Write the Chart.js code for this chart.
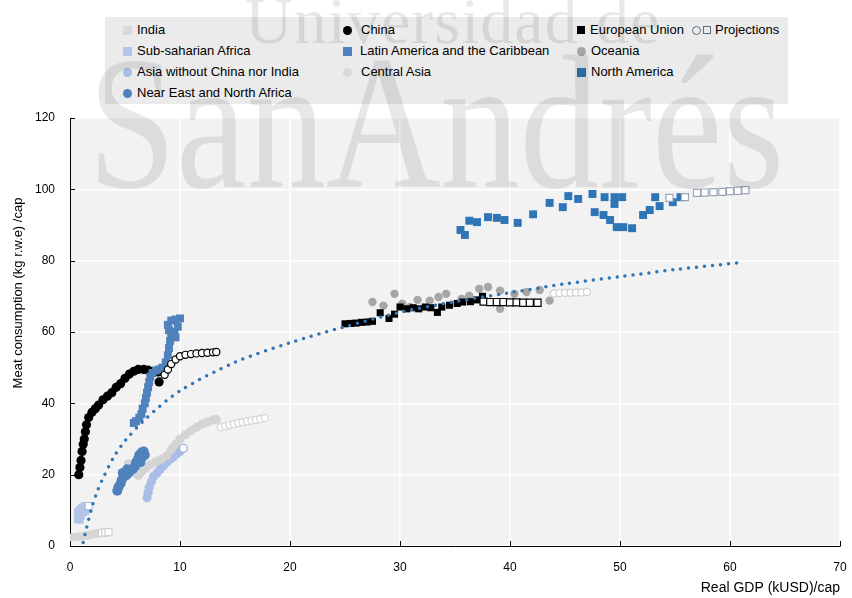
<!DOCTYPE html>
<html>
<head>
<meta charset="utf-8">
<script src="https://cdn.jsdelivr.net/npm/chart.js@4.4.1/dist/chart.umd.min.js"></script>
<style>
  body { margin: 0; background: #fff; }
  #wrap { position: relative; width: 852px; height: 598px; overflow: hidden; }
  #c { position: absolute; left: 0; top: 0; }
  #legend { position: absolute; left: 105px; top: 17px; width: 683px; height: 87px; background: #ebebeb;
            font: 13px "Liberation Sans", Arial, sans-serif; color: #000; }
  .it { position: absolute; height: 16px; line-height: 16px; display: flex; align-items: center; white-space: nowrap; }
  .it i { display: inline-block; width: 9px; height: 9px; margin-right: 5px; box-sizing: border-box; }
  .it i.ci { border-radius: 50%; }
  .wm { position: absolute; font-family: "Liberation Serif", "DejaVu Serif", serif; color: rgba(0,0,0,0.09);
        line-height: 1; white-space: nowrap; pointer-events: none; transform-origin: 0 0; }
</style>
</head>
<body>
<div id="wrap">
  <div id="legend">
    <div class="it" style="left:18px;top:5px"><i style="background:#d9d9d9"></i>India</div>
    <div class="it" style="left:18px;top:26px"><i style="background:#b4c4e8"></i>Sub-saharian Africa</div>
    <div class="it" style="left:18px;top:47px"><i class="ci" style="background:#aabde6"></i>Asia without China nor India</div>
    <div class="it" style="left:18px;top:68px"><i class="ci" style="background:#4f81bd"></i>Near East and North Africa</div>

    <div class="it" style="left:238px;top:5px"><i class="ci" style="background:#000;margin-right:9px"></i>China</div>
    <div class="it" style="left:238px;top:26px"><i style="background:#4f81bd;margin-right:8px"></i>Latin America and the Caribbean</div>
    <div class="it" style="left:238px;top:47px"><i class="ci" style="background:#d9d9d9;margin-right:9px"></i>Central Asia</div>

    <div class="it" style="left:472px;top:5px"><i style="background:#000;width:8px;height:8px"></i>European Union</div>
    <div class="it" style="left:472px;top:26px"><i class="ci" style="background:#a6a6a6"></i>Oceania</div>
    <div class="it" style="left:472px;top:47px"><i style="background:#2e75b6"></i>North America</div>

    <div class="it" style="left:587px;top:5px"><i class="ci" style="border:1px solid #5b6f8a;margin-right:2px"></i><i style="border:1px solid #5b6f8a;width:8px;height:8px;margin-right:4px"></i>Projections</div>
  </div>
  <canvas id="c" width="852" height="598"></canvas>
  <div class="wm" style="left:245px;top:-12px;font-size:66px;letter-spacing:1px">Universidad de</div>
  <div class="wm" style="left:88px;top:28px;font-size:190px;transform:scaleX(0.835)">SanAndrés</div>
</div>
<script>
// values: [GDP kUSD/cap, meat kg/cap]
const india      = [[0.3,2.4],[0.5,2.5],[0.7,2.6],[0.9,2.7],[1.1,2.8],[1.3,2.9],[1.5,3.0],[1.7,3.1],[1.9,3.2],[2.1,3.3],[2.3,3.4],[2.5,3.5],[2.7,3.6]];
const indiaProj  = [[2.9,3.7],[3.2,3.8],[3.5,3.9]];
const ssAfrica   = [[0.7,7.5],[0.8,8.5],[0.7,9.5],[0.9,10.2],[1.1,10.8],[1.3,11.2],[1.5,11.0],[1.2,9.5],[1.0,8.5],[0.9,7.3],[1.4,9.8],[1.6,10.5]];
const ssAfricaProj = [[1.7,11.2]];
const asiaOther  = [[7.0,13.5],[7.1,15],[7.2,16.5],[7.4,18],[7.6,19.5],[7.9,20.5],[8.2,21.5],[8.5,22.5],[8.8,23.5],[9.1,24.3],[9.4,25],[9.7,25.8],[10.0,26.5]];
const asiaOtherProj = [[10.3,27.4]];
const nearEast   = [[4.3,15.5],[4.4,16.5],[4.6,17.5],[4.7,18.5],[4.9,19.5],[5.1,19.8],[5.3,20.5],[5.5,21.2],[5.7,21.5],[5.9,22.3],[6.0,23.5],[6.2,24.5],[6.3,25.5],[6.5,26.2],[6.7,26.5],[6.6,25],[6.4,23.5],[5.2,21.5],[4.8,20.5],[6.8,25.5]];
const china      = [[0.8,20],[0.9,22],[1.0,24],[1.1,26.5],[1.2,28.5],[1.3,30],[1.4,32],[1.5,34],[1.7,36],[2.0,37.5],[2.3,38.5],[2.6,39.5],[3.0,41],[3.4,42],[3.8,43],[4.2,44.5],[4.6,45.5],[5.0,47],[5.4,48.2],[5.8,49],[6.2,49.5],[6.7,49.5],[7.1,49.3],[7.5,49],[8.0,48.8],[8.1,46]];
const chinaProj  = [[8.6,48],[8.9,49.5],[9.2,51],[9.6,52.3],[10.0,53.2],[10.5,53.6],[11.0,53.8],[11.5,54],[12.0,54.1],[12.5,54.2],[13.0,54.3],[13.3,54.4]];
const latAm      = [[5.8,34.5],[6.0,35],[6.3,36],[6.5,37],[6.6,38.5],[6.8,40],[6.9,41.5],[7.0,43],[7.1,44.5],[7.2,46],[7.3,47.5],[7.5,48.5],[7.8,49.2],[8.1,49.5],[8.4,50],[8.7,51.5],[8.9,53.5],[9.0,55.5],[9.1,57.5],[9.2,59],[9.0,60.5],[8.9,62],[9.2,63.2],[9.6,63.5],[10.0,63.8],[9.8,61.5],[9.5,60],[9.6,58.5]];
const centralAsia = [[5.3,23],[5.6,22],[5.9,20.5],[6.2,19.8],[6.5,20.8],[6.9,21.8],[7.3,22.8],[7.8,23.6],[8.3,24.3],[8.8,25.3],[9.2,27],[9.6,28.5],[10.0,30],[10.5,31.2],[11.0,32.3],[11.5,33.3],[12.0,34.2],[12.5,34.8],[13.0,35.3],[13.3,35.5]];
const centralAsiaProj = [[13.7,33.3],[14.1,33.6],[14.5,33.9],[14.9,34.2],[15.3,34.5],[15.7,34.7],[16.1,35.0],[16.5,35.2],[16.9,35.4],[17.3,35.6],[17.7,35.9]];
const eu         = [[25.0,62.3],[25.5,62.4],[26.0,62.5],[26.5,62.7],[27.0,62.8],[27.5,63],[28.2,65.4],[29.0,63.8],[29.5,65],[30.0,67],[30.6,66.5],[31.2,66.8],[31.7,66.5],[32.3,67],[32.8,66.8],[33.4,65.5],[33.8,67],[34.5,67.5],[35.2,68],[35.7,68.4],[36.4,68.5],[37.0,69],[37.5,70]];
const euProj     = [[37.6,68.5],[38.2,68.4],[38.8,68.4],[39.4,68.4],[40.0,68.3],[40.6,68.3],[41.2,68.2],[41.8,68.2],[42.5,68.2]];
const oceania    = [[27.5,68.4],[28.5,67.4],[29.5,70.7],[30.2,67.9],[30.9,67],[31.6,69],[32.7,68.8],[33.5,69.8],[34.2,70.7],[35.6,69.3],[36.3,70.2],[37.2,72.1],[38.0,72.6],[39.1,71.6],[39.1,66.5],[40.4,70.7],[41.5,71.2],[42.7,71.8],[43.6,68.8]];
const oceaniaProj = [[44.0,70.8],[44.5,70.9],[45.0,71],[45.5,71],[46.0,71.1],[46.5,71.1],[47.0,71.2]];
const northAm    = [[35.5,88.6],[35.9,87.2],[36.3,91.2],[37.0,90.8],[38.0,92.2],[38.8,92],[39.5,91.4],[40.7,90.6],[42.1,93],[43.6,96.2],[44.8,95],[45.3,98.1],[46.2,97.3],[47.5,98.7],[48.6,97.8],[49.5,97.8],[50.2,97.8],[49.5,95.9],[47.7,93.6],[48.5,92.8],[49.1,91.4],[49.7,89.4],[50.3,89.4],[51.1,89.1],[52.1,92.8],[52.7,94.2],[53.6,95.3],[54.8,96.4],[55.5,97.8],[53.2,97.8]];
const northAmProj = [[54.5,97.6],[55.9,97.8],[57.0,99],[57.7,99.1],[58.5,99.2],[59.3,99.3],[60.0,99.5],[60.7,99.6],[61.4,99.8]];
const trend      = [[1.2,1],[1.5,5],[2,11],[2.5,15.5],[3,19],[4,25],[5,29.5],[7,36],[10,43.5],[15,51.5],[20,57],[25,61.5],[30,65.5],[35,68.5],[40,71],[45,73.5],[50,75.5],[55,77.5],[61,79.5]];

const FONT = '"Liberation Sans", Arial, sans-serif';
Chart.defaults.font.family = FONT;

const pts = arr => arr.map(p => ({x: p[0], y: p[1]}));

function filled(data, shape, color, r) {
  return {data: pts(data), pointStyle: shape, pointRadius: r, backgroundColor: color, borderColor: color, borderWidth: 0};
}
function open(data, shape, color, r) {
  return {data: pts(data), pointStyle: shape, pointRadius: r, backgroundColor: '#fff', borderColor: color, borderWidth: 1.2};
}

// first dataset ends up on top
const datasets = [
  {data: pts(trend), showLine: true, pointRadius: 0, borderColor: '#2e75b6', borderWidth: 3.5,
   borderDash: [0, 8], borderCapStyle: 'round', tension: 0.3},
  open(chinaProj, 'circle', '#000', 3.6),
  open(northAmProj, 'rect', '#9aa6b8', 5),
  open(euProj, 'rect', '#000', 5),
  open(oceaniaProj, 'circle', '#cfcfcf', 3.6),
  open(centralAsiaProj, 'circle', '#d4d4d4', 3.6),
  open(asiaOtherProj, 'circle', '#8fa7dc', 4),
  open(indiaProj, 'rect', '#d0d0d0', 5),
  open(ssAfricaProj, 'rect', '#aabde6', 5),
  filled(latAm, 'rect', '#4f81bd', 5.6),
  filled(nearEast, 'circle', '#4f81bd', 5),
  filled(northAm, 'rect', '#2e75b6', 5.6),
  filled(eu, 'rect', '#000', 5),
  filled(china, 'circle', '#000', 4.6),
  filled(oceania, 'circle', '#a6a6a6', 4.2),
  filled(centralAsia, 'circle', '#d4d4d4', 4.6),
  filled(asiaOther, 'circle', '#aabde6', 4.6),
  filled(ssAfrica, 'rect', '#b4c4e8', 5.4),
  filled(india, 'rect', '#d6d6d6', 5.4)
];

const frame = {
  id: 'frame',
  beforeDraw(chart) {
    const {ctx, chartArea: a} = chart;
    ctx.save();
    ctx.fillStyle = '#f2f2f2';
    ctx.fillRect(a.left, a.top, a.right - a.left, a.bottom - a.top);
    ctx.restore();
  },
  afterDraw(chart) {
    const {ctx, chartArea: a, scales} = chart;
    ctx.save();
    // inward tick marks
    ctx.strokeStyle = '#000';
    ctx.lineWidth = 1;
    ctx.beginPath();
    scales.x.ticks.forEach(t => {
      if (t.value === 0) return;
      const px = Math.round(scales.x.getPixelForValue(t.value)) + 0.5;
      ctx.moveTo(px, a.bottom); ctx.lineTo(px, a.bottom - 5);
    });
    scales.y.ticks.forEach(t => {
      if (t.value === 0) return;
      const py = Math.round(scales.y.getPixelForValue(t.value)) + 0.5;
      ctx.moveTo(a.left, py); ctx.lineTo(a.left + 5, py);
    });
    ctx.stroke();
    // y axis title
    ctx.translate(18, 293);
    ctx.rotate(-Math.PI / 2);
    ctx.fillStyle = '#000';
    ctx.font = '13px ' + FONT;
    ctx.textAlign = 'center';
    ctx.textBaseline = 'middle';
    ctx.fillText('Meat consumption (kg r.w.e) /cap', 0, 0);
    ctx.restore();
  }
};

new Chart(document.getElementById('c'), {
  type: 'scatter',
  data: {datasets},
  options: {
    responsive: false,
    animation: false,
    layout: {padding: {top: 118, right: 12}},
    plugins: {legend: {display: false}, tooltip: {enabled: false}},
    scales: {
      x: {
        type: 'linear', min: 0, max: 70,
        ticks: {stepSize: 10, color: '#000', padding: 14, font: {size: 12}},
        grid: {color: '#fff', lineWidth: 1.5, drawTicks: false},
        border: {color: '#000', width: 1},
        title: {display: true, text: 'Real GDP (kUSD)/cap', align: 'end', color: '#000', font: {size: 14}, padding: {top: 0, bottom: 1}},
        afterFit(s) { s.height = 52; s.paddingLeft = 0; s.paddingRight = 0; }
      },
      y: {
        type: 'linear', min: 0, max: 120,
        ticks: {stepSize: 20, color: '#000', padding: 15, font: {size: 12}},
        grid: {color: '#fff', lineWidth: 1.5, drawTicks: false},
        border: {color: '#000', width: 1},
        afterFit(s) { s.width = 70; }
      }
    }
  },
  plugins: [frame]
});
</script>
</body>
</html>
